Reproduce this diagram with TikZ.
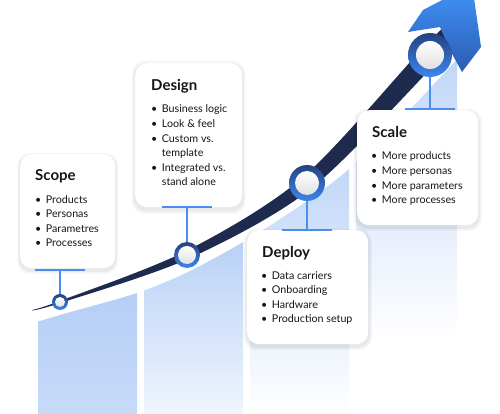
\documentclass[tikz,border=0pt]{standalone}
\usepackage{fontspec}
\setmainfont{Lato}
\usetikzlibrary{shadows}

\definecolor{navy}{HTML}{1E2A4E}
\definecolor{lineblue}{HTML}{2F62BE}
\definecolor{ringtop}{HTML}{24427F}
\definecolor{ringblue}{HTML}{3D86EE}
\definecolor{tickblue}{HTML}{4A8EF0}
\definecolor{barblue}{HTML}{B4CEF6}
\definecolor{headtop}{HTML}{3F8CF0}
\definecolor{headbot}{HTML}{2A5CB3}
\definecolor{ink}{HTML}{161616}

\pgfdeclarehorizontalshading{linefade}{100bp}{color(0bp)=(navy); color(72bp)=(navy); color(100bp)=(lineblue)}

\newcommand{\stageitems}[1]{\begin{tabular}[t]{@{}l@{\hspace{4.5pt}}l@{}}#1\end{tabular}}

\tikzset{
  stagebox/.style={fill=white, rounded corners=12pt, anchor=north west, inner sep=0pt,
    general shadow={fill=black, opacity=0.04, shadow scale=1.06, shadow yshift=-2pt},
    general shadow={fill=black, opacity=0.05, shadow scale=1.03, shadow yshift=-2pt}},
  stagetitle/.style={anchor=base west, inner sep=0pt, text=ink, font=\fontsize{15}{18}\selectfont\bfseries},
  stagelist/.style={anchor=base west, inner sep=0pt, text=ink, font=\fontsize{10.7}{14.6}\selectfont},
  tick/.style={tickblue, line width=1.6pt},
  ring/.style={circle, inner sep=0pt, top color=ringtop, bottom color=ringblue},
  hub/.style={circle, inner sep=0pt, top color=white, bottom color=black!12},
}

\begin{document}
\begin{tikzpicture}[x=1pt, y=-1pt]
\useasboundingbox (0,0) rectangle (500,414);

\begin{scope}
  \clip plot[smooth] coordinates {(20,327) (60,315) (137,293) (190,271) (250,238) (307,201) (348,170) (400,120) (460,56) (470,45)}
    -- (500,45) -- (500,414) -- (0,414) -- (0,327) -- cycle;
  \shade[top color=barblue, bottom color=barblue!75!white] (38,285) rectangle (137,414);
  \shade[top color=barblue, bottom color=barblue!20!white] (144,230) rectangle (243,414);
  \shade[top color=barblue!85!white, bottom color=white] (250,160) rectangle (349,414);
  \shade[top color=barblue!85!white, bottom color=white] (356,50) rectangle (457,340);
\end{scope}

\shade[shading=linefade] plot[smooth] coordinates {(32,310) (59.7,301) (185.3,251.4) (302.6,177.6) (422.8,48) (455,17)}
  -- plot[smooth] coordinates {(469,31) (437.2,62) (311.4,188.4) (188.7,258.6) (60.3,303) (32,310.5)} -- cycle;

\shade[top color=headtop, bottom color=headbot] (408,32) -- (423,10) -- (446,-2) -- (474,-2) -- (481,47)
  -- (462,72) -- (451,52) -- (440,27) -- cycle;

\node[stagebox, minimum width=95pt, minimum height=114pt] (scope) at (20,154) {};
\node[stagebox, minimum width=107pt, minimum height=144pt] (design) at (135,63) {};
\node[stagebox, minimum width=121pt, minimum height=114pt] (deploy) at (247,230) {};
\node[stagebox, minimum width=121pt, minimum height=115pt] (scale) at (357,110) {};

\node[stagetitle] (scopetitle) at (35,180.5) {Scope};
\node[stagetitle] (designtitle) at (151,90.5) {Design};
\node[stagetitle] (deploytitle) at (262,257.5) {Deploy};
\node[stagetitle] (scaletitle) at (372,137.5) {Scale};

\node[stagelist] (scopelist) at (35,203) {\stageitems{\textbullet & Products\\ \textbullet & Personas\\ \textbullet & Parametres\\ \textbullet & Processes}};
\node[stagelist] (designlist) at (151,113) {\stageitems{\textbullet & Business logic\\ \textbullet & Look \& feel\\ \textbullet & Custom vs.\\ & template\\ \textbullet & Integrated vs.\\ & stand alone}};
\node[stagelist] (deploylist) at (261,279) {\stageitems{\textbullet & Data carriers\\ \textbullet & Onboarding\\ \textbullet & Hardware\\ \textbullet & Production setup}};
\node[stagelist] (scalelist) at (371,160) {\stageitems{\textbullet & More products\\ \textbullet & More personas\\ \textbullet & More parameters\\ \textbullet & More processes}};

\node[ring, minimum size=16pt] (m1) at (60,302) {};
\node[hub, minimum size=10pt] at (m1) {};
\node[ring, minimum size=26pt] (m2) at (187,255) {};
\node[hub, minimum size=18pt] at (m2) {};
\node[ring, minimum size=36pt] (m3) at (307,183) {};
\node[hub, minimum size=24pt] at (m3) {};
\node[ring, minimum size=44pt] (m4) at (430,55) {};
\node[hub, minimum size=28pt] at (m4) {};

\coordinate (t1) at (60,270);
\coordinate (t2) at (187,207);
\coordinate (t3) at (307,230);
\coordinate (t4) at (430,109);
\draw[tick] (m1) -- (t1);
\draw[tick] (m2) -- (t2);
\draw[tick] (m3) -- (t3);
\draw[tick] (m4) -- (t4);
\draw[tick] ([xshift=-25pt]t1) -- ([xshift=25pt]t1);
\draw[tick] ([xshift=-25pt]t2) -- ([xshift=25pt]t2);
\draw[tick] ([xshift=-25pt]t3) -- ([xshift=25pt]t3);
\draw[tick] ([xshift=-25pt]t4) -- ([xshift=25pt]t4);
\end{tikzpicture}
\end{document}
